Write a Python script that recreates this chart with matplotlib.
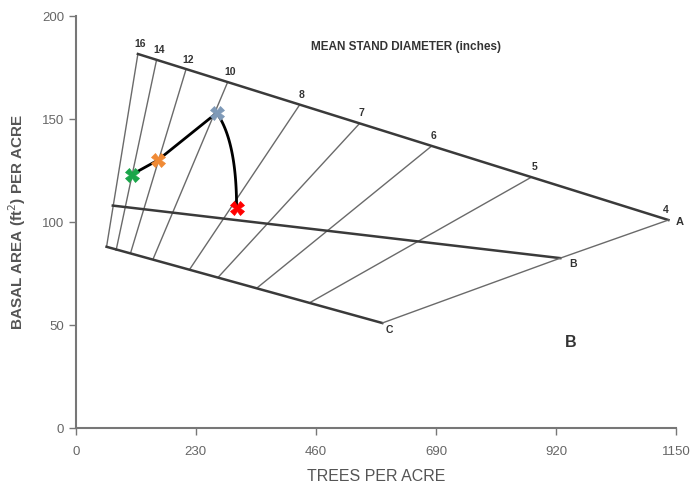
import numpy as np
import matplotlib
matplotlib.use("Agg")
import matplotlib.pyplot as plt

plt.rcParams['font.family'] = ['Liberation Sans', 'DejaVu Sans']

# Mean stand diameter lines: top (A-line) points and bottom (C-line) points
diameters = ["16", "14", "12", "10", "8", "7", "6", "5"]
top_tpa = [119, 155, 211, 291, 429, 544, 682, 874]
top_ba = [181.6, 179, 174, 168, 157, 148, 137, 122]
bot_tpa = [59, 77, 105, 148, 218, 272, 347, 449]
bot_ba = [88, 86, 85, 82, 77, 73, 68, 61]

# Stocking line end points
A_pt = (1135, 101)
B_left = (71, 108)
B_pt = (928, 82.5)
C_pt = (587, 51)

# Stand trajectory points
traj_tpa = [107, 157, 270, 308]
traj_ba = [123, 130, 153, 107]
traj_colors = ["#1aa64a", "#f08a35", "#7f9ab8", "#ff0000"]

fig = plt.figure(figsize=(6.95, 4.87), dpi=100)
ax = fig.add_axes([0.109, 0.121, 0.864, 0.846])

line_dark = "#3a3a3a"
line_grid = "#6a6a6a"

# diameter lines
for t0, b0, t1, b1 in zip(top_tpa, top_ba, bot_tpa, bot_ba):
    ax.plot([t0, t1], [b0, b1], color=line_grid, lw=1.0, solid_capstyle='butt')

# A-line (top)
ax.plot([top_tpa[0], A_pt[0]], [top_ba[0], A_pt[1]], color=line_dark, lw=1.8)
# C-line (bottom)
ax.plot([bot_tpa[0], C_pt[0]], [bot_ba[0], C_pt[1]], color=line_dark, lw=1.8)
# B-line
ax.plot([B_left[0], B_pt[0]], [B_left[1], B_pt[1]], color=line_dark, lw=1.8)
# right boundary A-B-C
ax.plot([A_pt[0], B_pt[0], C_pt[0]], [A_pt[1], B_pt[1], C_pt[1]], color=line_grid, lw=1.0)

# diameter labels
for lab, t, b in zip(diameters, top_tpa, top_ba):
    ax.text(t + 4, b + 2.3, lab, fontsize=7.5, fontweight='bold', color="#333333",
            ha='center', va='bottom')
ax.text(A_pt[0] - 6, A_pt[1] + 2.3, "4", fontsize=7.5, fontweight='bold', color="#333333",
        ha='center', va='bottom')
ax.text(A_pt[0] + 22, A_pt[1] - 1, "A", fontsize=8, fontweight='bold', color="#333333",
        ha='center', va='center')
ax.text(B_pt[0] + 25, B_pt[1] - 3, "B", fontsize=7.5, fontweight='bold', color="#333333",
        ha='center', va='center')
ax.text(C_pt[0] + 14, C_pt[1] - 3.5, "C", fontsize=7.5, fontweight='bold', color="#333333",
        ha='center', va='center')
ax.text(948, 41.5, "B", fontsize=11.5, fontweight='bold', color="#333333",
        ha='center', va='center')
ax.text(633, 185, "MEAN STAND DIAMETER (inches)", fontsize=8.5, fontweight='bold',
        color="#333333", ha='center', va='center')

# trajectory: green -> orange -> blue
ax.plot(traj_tpa[:3], traj_ba[:3], color='black', lw=2.0, zorder=4,
        solid_joinstyle='round')
# blue -> red arc (quadratic Bezier)
p0 = np.array([traj_tpa[2], traj_ba[2]])
p2 = np.array([traj_tpa[3], traj_ba[3]])
pc = np.array([traj_tpa[3], traj_ba[2] - 0.3 * (traj_ba[2] - traj_ba[3])])
tt = np.linspace(0, 1, 100)[:, None]
bez = (1 - tt) ** 2 * p0 + 2 * (1 - tt) * tt * pc + tt ** 2 * p2
ax.plot(bez[:, 0], bez[:, 1], color='black', lw=2.0, zorder=4)

for x, y, c in zip(traj_tpa, traj_ba, traj_colors):
    ax.plot(x, y, marker='X', markersize=10, color=c, markeredgecolor=c,
            markeredgewidth=0.5, zorder=5, linestyle='none')

ax.set_xlim(0, 1150)
ax.set_ylim(0, 200)
ax.set_xticks([0, 230, 460, 690, 920, 1150])
ax.set_yticks([0, 50, 100, 150, 200])
for s in ['top', 'right']:
    ax.spines[s].set_visible(False)
for s in ['left', 'bottom']:
    ax.spines[s].set_color("#777777")
    ax.spines[s].set_linewidth(1.5)
ax.tick_params(axis='both', colors="#777777", labelcolor="#666666", labelsize=9.5,
               length=5, width=1, direction='out')
ax.tick_params(axis='x', pad=8)

ax.set_xlabel("TREES PER ACRE", fontsize=11.5, color="#555555", labelpad=8)
ax.set_ylabel("BASAL AREA (ft$^2$) PER ACRE", fontsize=11, fontweight='bold',
              color="#555555")
ax.yaxis.set_label_coords(-0.08, 0.5)

fig.savefig("out.png", dpi=100)
